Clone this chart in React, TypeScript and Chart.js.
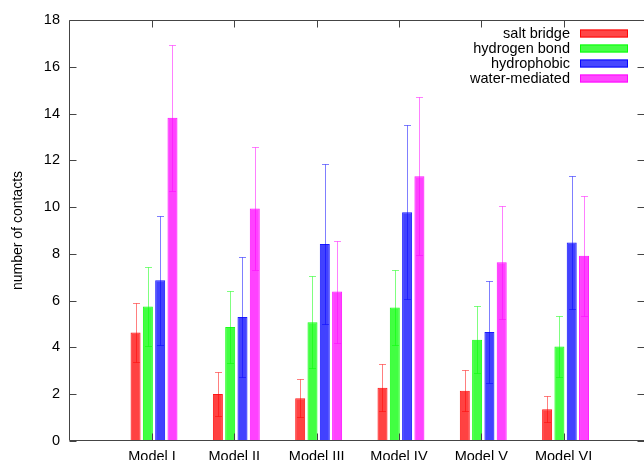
import React, { useEffect, useRef } from 'react';
import { Chart, registerables } from 'chart.js';

Chart.register(...registerables);

const categories = ['Model I', 'Model II', 'Model III', 'Model IV', 'Model V', 'Model VI'];
const seriesNames = ['salt bridge', 'hydrogen bond', 'hydrophobic', 'water-mediated'];

const saltBridge = [4.64, 2.01, 1.83, 2.28, 2.15, 1.36];
const saltBridgeErr = [1.27, 0.93, 0.81, 1.0, 0.87, 0.56];
const hydrogenBond = [5.75, 4.87, 5.08, 5.71, 4.33, 4.04];
const hydrogenBondErr = [1.69, 1.55, 1.97, 1.62, 1.43, 1.29];
const hydrophobic = [6.87, 5.3, 8.42, 9.78, 4.66, 8.49];
const hydrophobicErr = [2.77, 2.58, 3.42, 3.73, 2.16, 2.86];
const waterMediated = [13.82, 9.94, 6.39, 11.32, 7.64, 7.92];
const waterMediatedErr = [3.13, 2.65, 2.18, 3.37, 2.42, 2.57];

const yTicks = [0, 2, 4, 6, 8, 10, 12, 14, 16, 18];

const seriesValues = [saltBridge, hydrogenBond, hydrophobic, waterMediated];
const seriesErrors = [saltBridgeErr, hydrogenBondErr, hydrophobicErr, waterMediatedErr];
const seriesRGB = ['255,0,0', '0,255,0', '0,0,255', '255,0,255'];

const FONT = "'Liberation Sans', Arial, Helvetica, sans-serif";
const LABEL_SHIFT = -2;

const frameAndErrorPlugin = {
  id: 'frameAndErrors',
  afterDatasetsDraw(chart: any) {
    const { ctx, chartArea } = chart;
    const xs = chart.scales.x;
    const ys = chart.scales.y;
    // error bars
    chart.data.datasets.forEach((ds: any, di: number) => {
      const meta = chart.getDatasetMeta(di);
      ctx.save();
      ctx.strokeStyle = `rgba(${seriesRGB[di]},0.5)`;
      ctx.lineWidth = 1;
      ctx.beginPath();
      meta.data.forEach((el: any, i: number) => {
        const v = seriesValues[di][i];
        const e = seriesErrors[di][i];
        const x = Math.round(el.x) + 0.5;
        const yt = Math.round(ys.getPixelForValue(v + e)) + 0.5;
        const yb = Math.round(ys.getPixelForValue(v - e)) + 0.5;
        ctx.moveTo(x, yt);
        ctx.lineTo(x, yb);
        ctx.moveTo(x - 3.5, yt);
        ctx.lineTo(x + 3.5, yt);
        ctx.moveTo(x - 3.5, yb);
        ctx.lineTo(x + 3.5, yb);
      });
      ctx.stroke();
      ctx.restore();
    });
    // frame
    const L = Math.round(chartArea.left) + 0.5;
    const R = Math.round(chartArea.right) - 0.5;
    const T = Math.round(chartArea.top) + 0.5;
    const B = Math.round(chartArea.bottom) - 0.5;
    ctx.save();
    ctx.strokeStyle = '#444';
    ctx.lineWidth = 1;
    ctx.beginPath();
    ctx.rect(L, T, R - L, B - T);
    yTicks.forEach((v) => {
      const py = Math.round(ys.getPixelForValue(v)) + 0.5;
      ctx.moveTo(L, py);
      ctx.lineTo(L + 7, py);
      ctx.moveTo(R, py);
      ctx.lineTo(R - 7, py);
    });
    categories.forEach((_, i) => {
      const px = Math.round(xs.getPixelForValue(i + 1) + LABEL_SHIFT) + 0.5;
      ctx.moveTo(px, T);
      ctx.lineTo(px, T + 7);
      ctx.moveTo(px, B);
      ctx.lineTo(px, B - 7);
    });
    ctx.stroke();
    ctx.restore();
  },
  afterDraw(chart: any) {
    const { ctx, chartArea } = chart;
    ctx.save();
    ctx.font = `14.5px ${FONT}`;
    ctx.textAlign = 'right';
    ctx.textBaseline = 'middle';
    chart.data.datasets.forEach((ds: any, i: number) => {
      const cy = chartArea.top + 13.5 + i * 15;
      ctx.fillStyle = '#000';
      ctx.fillText(seriesNames[i], chartArea.right - 75, cy + 0.5);
      ctx.fillStyle = `rgba(${seriesRGB[i]},0.72)`;
      ctx.fillRect(chartArea.right - 65, cy - 4, 48, 8);
      ctx.strokeStyle = `rgba(${seriesRGB[i]},0.9)`;
      ctx.lineWidth = 1;
      ctx.strokeRect(chartArea.right - 64.5, cy - 3.5, 47, 7);
    });
    ctx.restore();
  },
};

export default function App() {
  const canvasRef = useRef<HTMLCanvasElement | null>(null);

  useEffect(() => {
    if (!canvasRef.current) return;
    const datasets = seriesNames.map((name, si) => ({
      label: name,
      data: seriesValues[si].map((v, i) => ({ x: i + 1, y: v })),
      backgroundColor: `rgba(${seriesRGB[si]},0.74)`,
      borderColor: `rgba(${seriesRGB[si]},0.9)`,
      borderWidth: 1,
      borderSkipped: 'start',
      categoryPercentage: 0.598,
      barPercentage: 0.813,
    }));
    const chart = new Chart(canvasRef.current, {
      type: 'bar',
      data: { datasets: datasets as any },
      options: {
        animation: false,
        responsive: true,
        maintainAspectRatio: false,
        layout: { padding: { top: 20, right: 5, left: 0, bottom: 0 } },
        plugins: { legend: { display: false }, tooltip: { enabled: false } },
        scales: {
          x: {
            type: 'linear',
            min: -0.033,
            max: 6.965,
            offset: false,
            bounds: 'data',
            grid: { display: false, drawTicks: false, offset: false },
            border: { display: false },
            afterBuildTicks: (scale: any) => {
              scale.ticks = categories.map((_, i) => ({ value: i + 1 }));
            },
            afterFit: (scale: any) => {
              scale.height = 39;
            },
            ticks: {
              autoSkip: false,
              maxRotation: 0,
              padding: 7,
              labelOffset: LABEL_SHIFT,
              color: '#000',
              font: { family: FONT, size: 14.5 },
              callback: (value: any) => categories[Number(value) - 1] ?? '',
            },
          },
          y: {
            type: 'linear',
            min: 0,
            max: 18,
            grid: { display: false, drawTicks: false },
            border: { display: false },
            afterFit: (scale: any) => {
              scale.width = 69;
            },
            ticks: {
              stepSize: 2,
              padding: 9,
              color: '#000',
              font: { family: FONT, size: 14.5 },
            },
            title: {
              display: true,
              text: 'number of contacts',
              color: '#000',
              font: { family: FONT, size: 14 },
              padding: { top: 10, bottom: 0 },
            },
          },
        },
      },
      plugins: [frameAndErrorPlugin],
    });
    return () => chart.destroy();
  }, []);

  return (
    <div style={{ position: 'absolute', left: 0, top: 0, width: 644, height: 460, overflow: 'hidden', background: '#fff' }}>
      <div style={{ position: 'relative', width: 650, height: 480 }}>
        <canvas ref={canvasRef} />
      </div>
    </div>
  );
}
